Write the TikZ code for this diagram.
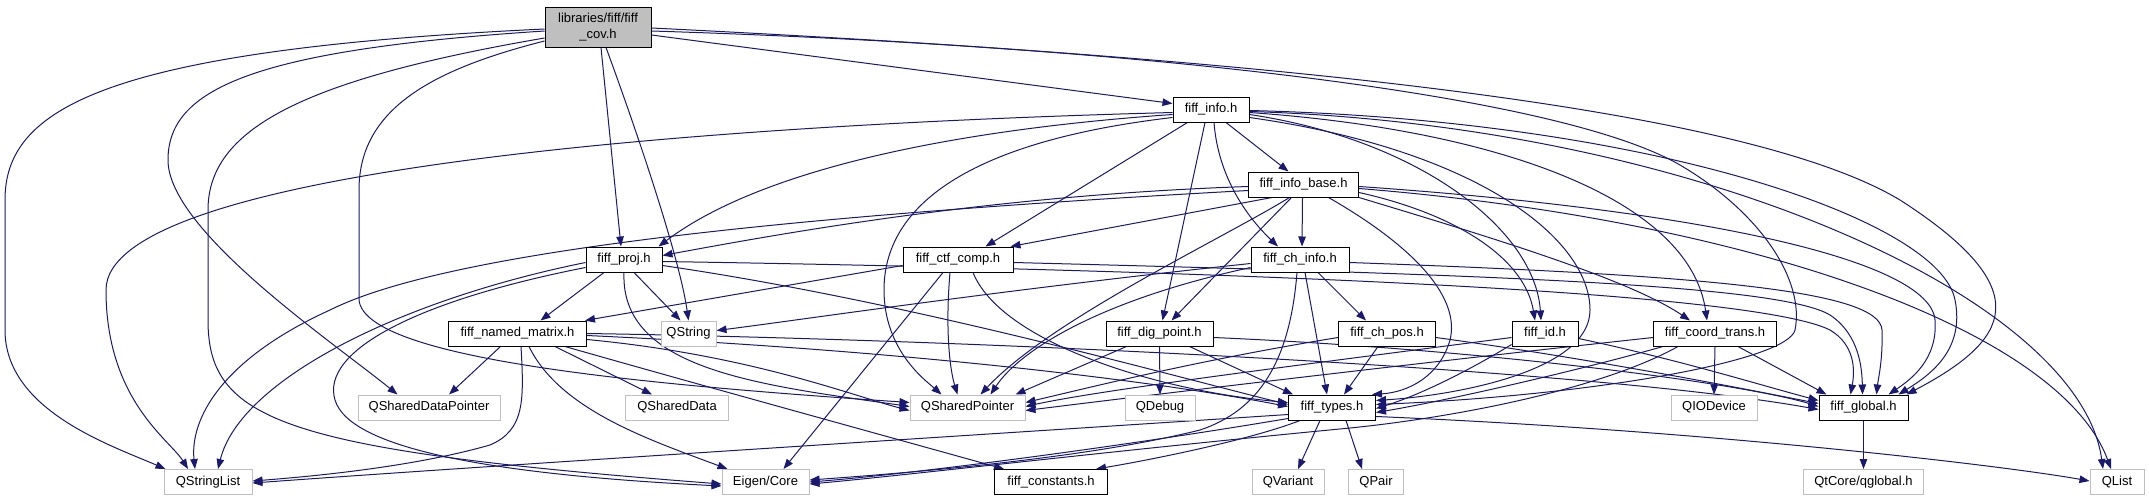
\documentclass[tikz,border=0pt]{standalone}
\usepackage{fontspec}
\setmainfont{Liberation Sans}
\usetikzlibrary{arrows.meta,calc}
\definecolor{edgec}{HTML}{191970}
\definecolor{extb}{HTML}{BFBFBF}
\definecolor{covfill}{HTML}{BFBFBF}
\pgfdeclarelayer{bglayer}
\pgfdeclarelayer{edgelayer}
\pgfsetlayers{bglayer,edgelayer,main}
\tikzset{
  fnode/.style={draw=black, line width=1pt, fill=white, minimum height=25pt, inner sep=0pt, text=black, font=\fontsize{13}{16}\selectfont},
  xnode/.style={fnode, draw=extb},
  conn/.style={draw=edgec, line width=1pt, -{Triangle[length=10pt,width=7.5pt]}},
}
\begin{document}
\begin{tikzpicture}[x=1pt,y=-1pt]
\begin{pgfonlayer}{bglayer}
\fill[white] (0,0) rectangle (2149,501);
\end{pgfonlayer}
\useasboundingbox (0,0) rectangle (2149,501);

\node[fnode, fill=covfill, minimum width=106pt, minimum height=40pt, align=center] (cov) at (598,27) {libraries/fiff/fiff\\\_cov.h};
\node[fnode, minimum width=76pt] (info) at (1211,109.5) {fiff\_info.h};
\node[fnode, minimum width=110pt] (infob) at (1303.5,184.5) {fiff\_info\_base.h};
\node[fnode, minimum width=76pt] (proj) at (624,259.5) {fiff\_proj.h};
\node[fnode, minimum width=110pt] (ctf) at (958,259.5) {fiff\_ctf\_comp.h};
\node[fnode, minimum width=98pt] (chinfo) at (1300,259.5) {fiff\_ch\_info.h};
\node[fnode, minimum width=138pt] (nm) at (517.5,333.5) {fiff\_named\_matrix.h};
\node[xnode, minimum width=55pt] (qstring) at (688.5,333.5) {QString};
\node[fnode, minimum width=107pt] (dig) at (1159.5,333.5) {fiff\_dig\_point.h};
\node[fnode, minimum width=97pt] (chpos) at (1387,333.5) {fiff\_ch\_pos.h};
\node[fnode, minimum width=66pt] (fid) at (1545,333.5) {fiff\_id.h};
\node[fnode, minimum width=123pt] (coord) at (1715,333.5) {fiff\_coord\_trans.h};
\node[xnode, minimum width=142pt] (qsdp) at (429,407.5) {QSharedDataPointer};
\node[xnode, minimum width=103pt] (qsd) at (677,407.5) {QSharedData};
\node[xnode, minimum width=115pt] (qsp) at (967.5,407.5) {QSharedPointer};
\node[xnode, minimum width=70pt] (qdebug) at (1160,407.5) {QDebug};
\node[fnode, minimum width=87pt] (types) at (1332,407.5) {fiff\_types.h};
\node[xnode, minimum width=86pt] (qio) at (1714,407.5) {QIODevice};
\node[fnode, minimum width=89pt] (global) at (1863.5,407.5) {fiff\_global.h};
\node[xnode, minimum width=88pt] (qsl) at (208,482) {QStringList};
\node[xnode, minimum width=87pt] (eigen) at (765.5,482) {Eigen/Core};
\node[fnode, minimum width=113pt] (fconst) at (1051,482) {fiff\_constants.h};
\node[xnode, minimum width=72pt] (qvariant) at (1288,482) {QVariant};
\node[xnode, minimum width=55pt] (qpair) at (1376,482) {QPair};
\node[xnode, minimum width=120pt] (qglobal) at (1863.5,482) {QtCore/qglobal.h};
\node[xnode, minimum width=54pt] (qlist) at (2117,482) {QList};

\begin{pgfonlayer}{edgelayer}
% fiff_cov.h
\draw[conn] ($(cov.west)+(0,2)$) .. controls (100,50) and (5,110) .. (5,200) -- (5,330) .. controls (5,410) and (110,445) .. ($(qsl.north west)+(2,0)$);
\draw[conn] ($(cov.west)+(0,4)$) .. controls (250,50) and (168,90) .. (168,160) .. controls (168,230) and (330,340) .. ($(qsdp.north west)+(40,0)$);
\draw[conn] ($(cov.west)+(0,11)$) .. controls (300,80) and (208,130) .. (208,210) -- (208,320) .. controls (208,420) and (280,450) .. ($(eigen.west)+(0,2)$);
\draw[conn] ($(cov.west)+(0,14)$) .. controls (430,70) and (359,110) .. (359,190) -- (359,300) .. controls (365,360) and (650,385) .. ($(qsp.west)+(0,-5)$);
\draw[conn] ($(cov.south)+(3,0)$) -- ($(proj.north)+(-3,0)$);
\draw[conn] ($(cov.south)+(8,0)$) .. controls (640,140) and (680,260) .. (qstring.north);
\draw[conn] ($(cov.east)+(0,8)$) -- ($(info.west)+(0,-6)$);
\draw[conn] ($(cov.east)+(0,4)$) .. controls (1100,45) and (1550,90) .. (1680,165) .. controls (1760,212) and (1805,280) .. (1795,330) .. controls (1788,360) and (1600,395) .. ($(types.east)+(0,-3)$);
\draw[conn] ($(cov.east)+(0,1)$) .. controls (1300,60) and (1750,110) .. (1900,200) .. controls (2040,290) and (2010,340) .. ($(global.north east)+(-2,0)$);
% fiff_info.h
\draw[conn] ($(info.west)+(0,3)$) .. controls (700,125) and (106,170) .. (106,290) .. controls (106,400) and (170,440) .. ($(qsl.north)+(-20,0)$);
\draw[conn] ($(info.west)+(0,5)$) .. controls (950,130) and (760,170) .. ($(proj.north east)+(-4,0)$);
\draw[conn] ($(info.west)+(0,8)$) .. controls (980,140) and (884,200) .. (884,290) .. controls (884,350) and (925,380) .. ($(qsp.north west)+(32,0)$);
\draw[conn] ($(info.south west)+(15,0)$) -- ($(ctf.north east)+(-28,0)$);
\draw[conn] ($(info.south)+(-6,0)$) -- ($(dig.north)+(3,0)$);
\draw[conn] ($(info.south)+(3,0)$) .. controls (1218,175) and (1245,215) .. ($(chinfo.north)+(-22,0)$);
\draw[conn] ($(info.south)+(15,0)$) -- ($(infob.north)+(-15,0)$);
\draw[conn] ($(info.east)+(0,5)$) .. controls (1420,140) and (1535,230) .. ($(fid.north)+(-4,0)$);
\draw[conn] ($(info.east)+(0,3)$) .. controls (1500,130) and (1690,200) .. ($(coord.north)+(-8,0)$);
\draw[conn] ($(info.east)+(0,8)$) .. controls (1480,150) and (1590,240) .. (1590,310) .. controls (1590,370) and (1460,395) .. ($(types.east)+(0,-7)$);
\draw[conn] ($(info.east)+(0,1)$) .. controls (1650,120) and (1940,220) .. (1955,300) .. controls (1965,350) and (1930,375) .. ($(global.north east)+(-10,0)$);
\draw[conn] ($(info.east)+(0,2)$) .. controls (1700,125) and (2080,300) .. ($(qlist.north)+(-14,0)$);
% fiff_info_base.h
\draw[conn] ($(infob.west)+(0,2)$) .. controls (1000,195) and (800,230) .. ($(proj.east)+(0,-4)$);
\draw[conn] ($(infob.west)+(0,6)$) .. controls (800,215) and (450,250) .. (330,310) .. controls (220,360) and (190,420) .. ($(qsl.north)+(-13,0)$);
\draw[conn] ($(infob.south west)+(24,0)$) -- ($(ctf.north east)+(-3,0)$);
\draw[conn] ($(infob.south)+(-14,0)$) .. controls (1220,240) and (1050,320) .. ($(qsp.north east)+(-45,0)$);
\draw[conn] ($(infob.south)+(-12,0)$) -- ($(dig.north)+(12,0)$);
\draw[conn] ($(infob.south)+(-1,0)$) -- ($(chinfo.north)+(2,0)$);
\draw[conn] ($(infob.south)+(25,0)$) .. controls (1420,250) and (1460,300) .. (1450,340) .. controls (1440,375) and (1410,392) .. ($(types.north east)+(-4,0)$);
\draw[conn] ($(infob.east)+(0,8)$) .. controls (1460,215) and (1525,260) .. ($(fid.north)+(-10,0)$);
\draw[conn] (infob.south east) .. controls (1500,240) and (1630,280) .. ($(coord.north)+(-25,0)$);
\draw[conn] ($(infob.east)+(0,2)$) .. controls (1700,210) and (1930,260) .. (1935,320) .. controls (1938,360) and (1910,380) .. ($(global.north east)+(-20,0)$);
\draw[conn] ($(infob.east)+(0,4)$) .. controls (1750,220) and (2060,330) .. ($(qlist.north)+(-6,0)$);
% fiff_proj.h
\draw[conn] ($(proj.south)+(-20,0)$) -- ($(nm.north)+(23,0)$);
\draw[conn] ($(proj.south)+(10,0)$) -- ($(qstring.north)+(-8,0)$);
\draw[conn] ($(proj.west)+(0,3)$) .. controls (400,300) and (240,380) .. ($(qsl.north)+(10,0)$);
\draw[conn] ($(proj.west)+(0,8)$) .. controls (420,300) and (320,350) .. (335,400) .. controls (350,450) and (500,475) .. ($(eigen.west)+(0,4)$);
\draw[conn] (proj.south) .. controls (620,370) and (760,385) .. ($(qsp.west)+(0,-1)$);
\draw[conn] ($(proj.east)+(0,6)$) .. controls (900,300) and (1150,370) .. ($(types.west)+(0,-3)$);
\draw[conn] ($(proj.east)+(0,2)$) .. controls (1200,270) and (1750,290) .. (1830,330) .. controls (1855,345) and (1855,370) .. ($(global.north)+(-13,0)$);
% fiff_named_matrix.h
\draw[conn] ($(nm.south)+(-17,0)$) -- ($(qsdp.north)+(20,0)$);
\draw[conn] ($(nm.south)+(3.5,0)$) .. controls (524,400) and (525,430) .. (490,445) .. controls (420,465) and (330,475) .. ($(qsl.east)+(0,-1)$);
\draw[conn] ($(nm.south)+(11.5,0)$) .. controls (560,410) and (650,440) .. ($(eigen.north west)+(6,0)$);
\draw[conn] ($(nm.south)+(37.5,0)$) -- ($(qsd.north)+(-25,0)$);
\draw[conn] ($(nm.south)+(47.5,0)$) .. controls (700,385) and (900,440) .. ($(fconst.north west)+(10,0)$);
\draw[conn] ($(nm.east)+(0,6)$) .. controls (750,355) and (850,395) .. ($(qsp.west)+(0,3)$);
\draw[conn] ($(nm.east)+(0,2)$) .. controls (900,350) and (1150,380) .. ($(types.west)+(0,-1)$);
\draw[conn] (nm.east) .. controls (1000,340) and (1600,370) .. ($(global.west)+(0,2)$);
% fiff_ctf_comp.h
\draw[conn] ($(ctf.west)+(0,6)$) -- ($(nm.north east)+(-2,0)$);
\draw[conn] ($(ctf.south)+(-15,0)$) -- ($(eigen.north)+(18,0)$);
\draw[conn] ($(ctf.south)+(-8,0)$) .. controls (945,330) and (950,370) .. ($(qsp.north)+(-10,0)$);
\draw[conn] ($(ctf.south)+(15,0)$) .. controls (1000,340) and (1150,390) .. ($(types.west)+(0,-5)$);
\draw[conn] ($(ctf.east)+(0,3)$) .. controls (1500,275) and (1780,285) .. (1830,315) .. controls (1860,335) and (1862,370) .. ($(global.north)+(-1,0)$);
% fiff_ch_info.h
\draw[conn] ($(chinfo.west)+(0,4)$) .. controls (1000,290) and (800,320) .. ($(qstring.east)+(0,-3)$);
\draw[conn] ($(chinfo.west)+(0,8)$) .. controls (1100,300) and (1020,350) .. ($(qsp.north east)+(-35,0)$);
\draw[conn] ($(chinfo.south)+(-3,0)$) .. controls (1290,360) and (1260,410) .. (1200,430) .. controls (1100,455) and (950,470) .. ($(eigen.east)+(0,-2)$);
\draw[conn] ($(chinfo.south)+(5,0)$) -- ($(types.north)+(-5,0)$);
\draw[conn] ($(chinfo.south)+(18,0)$) -- ($(chpos.north)+(-21,0)$);
\draw[conn] ($(chinfo.east)+(0,3)$) .. controls (1700,275) and (1880,290) .. (1882,330) .. controls (1883,360) and (1878,380) .. ($(global.north)+(13,0)$);
% fiff_dig_point.h
\draw[conn] ($(dig.south west)+(21,0)$) -- ($(qsp.north east)+(-10,0)$);
\draw[conn] (dig.south) -- (qdebug.north);
\draw[conn] ($(dig.south)+(30,0)$) -- ($(types.north west)+(5,0)$);
\draw[conn] ($(dig.east)+(0,4)$) .. controls (1500,350) and (1750,385) .. ($(global.west)+(0,-1)$);
% fiff_ch_pos.h
\draw[conn] ($(chpos.west)+(0,4)$) .. controls (1200,360) and (1100,385) .. ($(qsp.east)+(0,-5)$);
\draw[conn] ($(chpos.south)+(-9,0)$) -- ($(types.north)+(12,0)$);
\draw[conn] ($(chpos.east)+(0,4)$) .. controls (1600,360) and (1750,390) .. ($(global.west)+(0,-4)$);
% fiff_id.h
\draw[conn] ($(fid.west)+(0,4)$) .. controls (1300,365) and (1100,390) .. ($(qsp.east)+(0,-1)$);
\draw[conn] ($(fid.south west)+(0,-2)$) .. controls (1470,370) and (1420,395) .. ($(types.east)+(0,1)$);
\draw[conn] ($(fid.east)+(0,5)$) .. controls (1680,360) and (1760,385) .. ($(global.west)+(0,-7)$);
% fiff_coord_trans.h
\draw[conn] ($(coord.west)+(0,4)$) .. controls (1400,365) and (1150,395) .. ($(qsp.east)+(0,3)$);
\draw[conn] ($(coord.south west)+(10,0)$) .. controls (1580,370) and (1450,400) .. ($(types.east)+(0,5)$);
\draw[conn] ($(coord.south west)+(25,0)$) .. controls (1600,390) and (1450,418) .. (1350,428) .. controls (1100,452) and (900,476) .. ($(eigen.east)+(0,2)$);
\draw[conn] (coord.south) -- (qio.north);
\draw[conn] ($(coord.south)+(23,0)$) -- ($(global.north west)+(8,0)$);
% fiff_types.h
\draw[conn] ($(types.west)+(0,7)$) .. controls (900,440) and (500,465) .. ($(qsl.east)+(0,1)$);
\draw[conn] ($(types.south west)+(0,-2)$) .. controls (1100,450) and (900,475) .. (eigen.east);
\draw[conn] ($(types.south west)+(12,0)$) .. controls (1250,440) and (1150,460) .. ($(fconst.north east)+(-12,0)$);
\draw[conn] ($(types.south)+(-12,0)$) -- ($(qvariant.north)+(10,0)$);
\draw[conn] ($(types.south)+(14,0)$) -- ($(qpair.north)+(-14,0)$);
\draw[conn] ($(types.east)+(0,9)$) .. controls (1700,430) and (2000,465) .. ($(qlist.west)+(0,-1)$);
% fiff_global.h
\draw[conn] (global.south) -- (qglobal.north);
\end{pgfonlayer}
\end{tikzpicture}
\end{document}
